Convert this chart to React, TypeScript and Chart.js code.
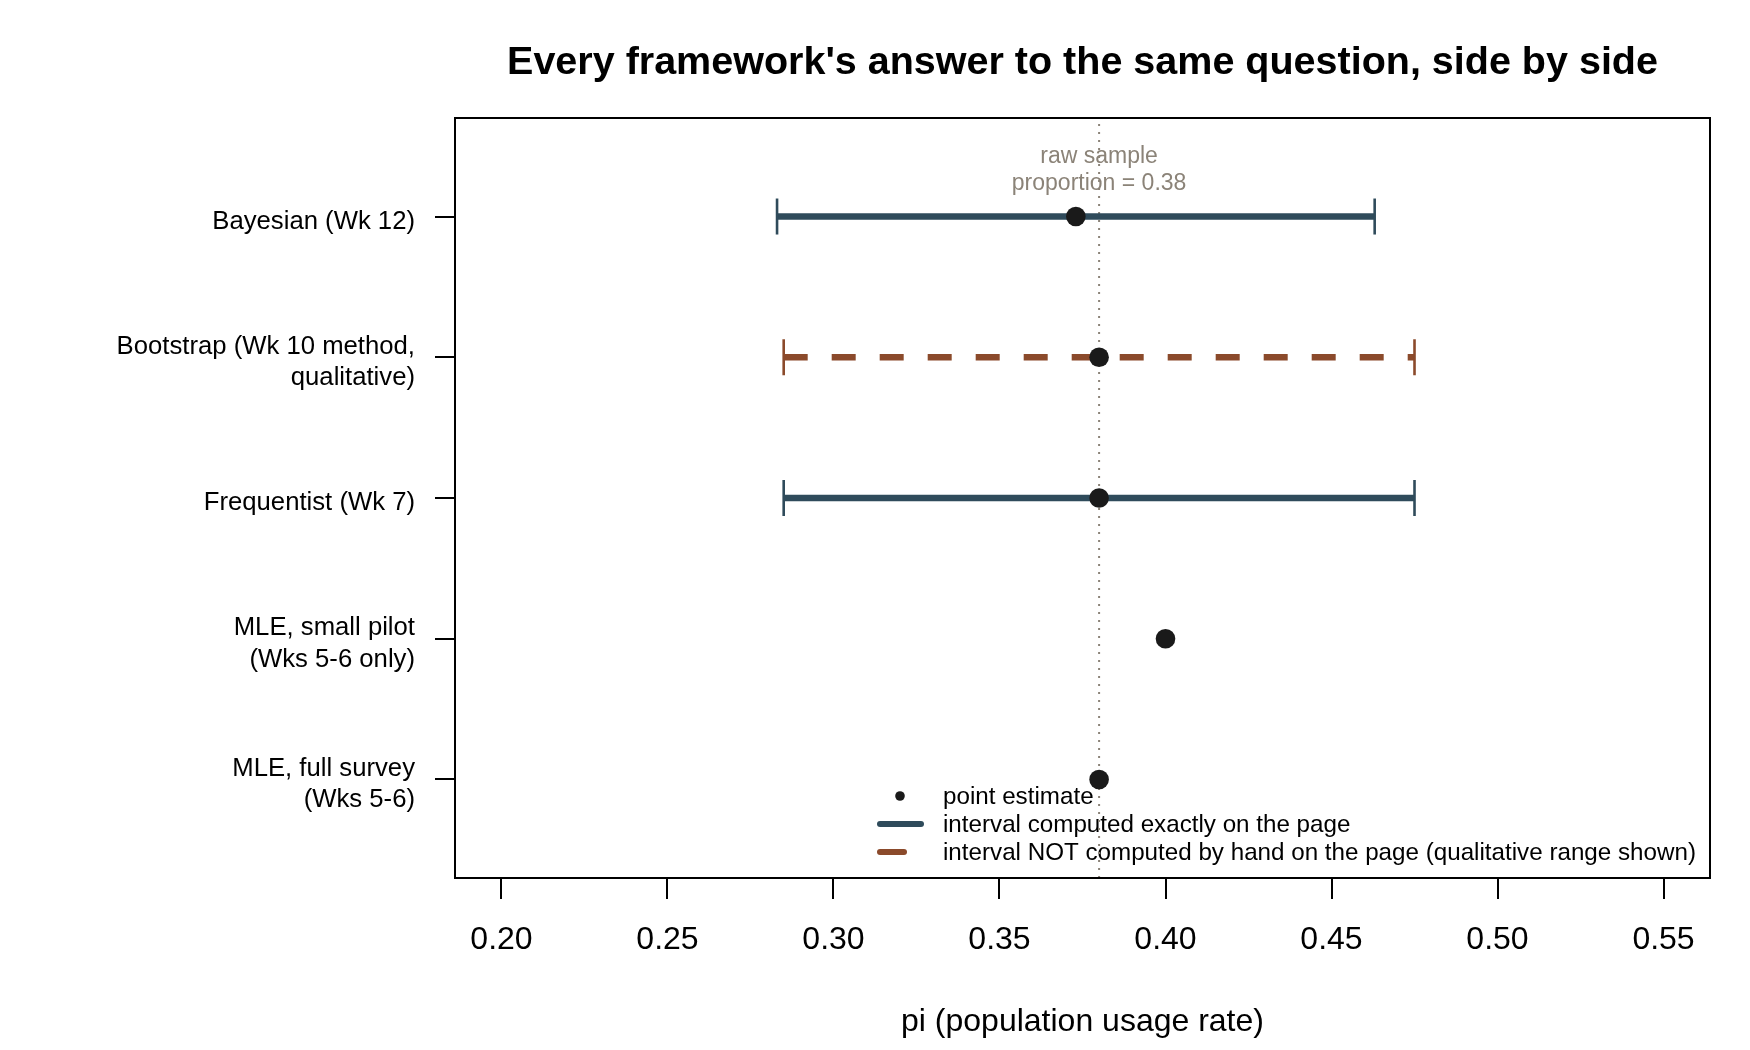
import { useEffect, useRef } from "react";
import { Chart, registerables } from "chart.js";

Chart.register(...registerables);

// rows, top to bottom
const methods = [
  "Bayesian (Wk 12)",
  "Bootstrap (Wk 10 method,\nqualitative)",
  "Frequentist (Wk 7)",
  "MLE, small pilot\n(Wks 5-6 only)",
  "MLE, full survey\n(Wks 5-6)",
];
const estimates = [0.373, 0.38, 0.38, 0.4, 0.38];
const lower = [0.283, 0.285, 0.285, null, null];
const upper = [0.463, 0.475, 0.475, null, null];
const computedExactly = [true, false, true, false, false];
const xTicks = [0.2, 0.25, 0.3, 0.35, 0.4, 0.45, 0.5, 0.55];
const rawProportion = 0.38;
const legendItems = [
  "point estimate",
  "interval computed exactly on the page",
  "interval NOT computed by hand on the page (qualitative range shown)",
];

const FONT = "'Liberation Sans', Arial, Helvetica, sans-serif";
const BLUE = "#2f4b5b";
const BROWN = "#8b4a2b";
const DOT = "#1a1a1a";
const GREY = "#8b8378";

const rowY = (i: number) => methods.length - i;

const decor = {
  id: "decor",
  beforeDatasetsDraw(chart: any) {
    const { ctx, chartArea, scales } = chart;
    ctx.save();
    // reference label
    const x = scales.x.getPixelForValue(rawProportion);
    const y = scales.y.getPixelForValue(5.33);
    ctx.fillStyle = GREY;
    ctx.font = `23px ${FONT}`;
    ctx.textAlign = "center";
    ctx.textBaseline = "middle";
    ctx.fillText("raw sample", x, y - 13.5);
    ctx.fillText(`proportion = ${rawProportion.toFixed(2)}`, x, y + 13.5);

    // legend, bottom right, no box
    ctx.font = `24.2px ${FONT}`;
    ctx.textAlign = "left";
    const tx = chartArea.left + 488;
    legendItems.forEach((t, i) => {
      const ly = chartArea.bottom - 82 + i * 28;
      if (i === 0) {
        ctx.fillStyle = DOT;
        ctx.beginPath();
        ctx.arc(tx - 43, ly, 4.8, 0, Math.PI * 2);
        ctx.fill();
      } else {
        ctx.strokeStyle = i === 1 ? BLUE : BROWN;
        ctx.lineWidth = 6;
        ctx.lineCap = "round";
        ctx.setLineDash(i === 1 ? [] : [24, 24]);
        ctx.beginPath();
        ctx.moveTo(tx - 63, ly);
        ctx.lineTo(tx - 22, ly);
        ctx.stroke();
        ctx.setLineDash([]);
      }
      ctx.fillStyle = "#000";
      ctx.fillText(t, tx, ly + 1);
    });
    ctx.restore();
  },
  afterDatasetsDraw(chart: any) {
    const { ctx, chartArea } = chart;
    ctx.save();
    ctx.strokeStyle = "#000";
    ctx.lineWidth = 2;
    ctx.strokeRect(
      chartArea.left,
      chartArea.top,
      chartArea.right - chartArea.left,
      chartArea.bottom - chartArea.top
    );
    ctx.restore();
  },
};

const App = () => {
  const canvasRef = useRef<HTMLCanvasElement>(null);
  const chartRef = useRef<Chart | null>(null);

  useEffect(() => {
    document.body.style.margin = "0";
    if (!canvasRef.current) return;
    if (chartRef.current) chartRef.current.destroy();

    const intervals: any[] = [];
    methods.forEach((m, i) => {
      if (lower[i] == null || upper[i] == null) return;
      const color = computedExactly[i] ? BLUE : BROWN;
      intervals.push({
        label: m,
        data: [
          { x: lower[i], y: rowY(i) },
          { x: upper[i], y: rowY(i) },
        ],
        showLine: true,
        borderColor: color,
        borderWidth: 6.5,
        borderCapStyle: "butt",
        borderDash: computedExactly[i] ? [] : [24, 24],
        pointStyle: "line",
        pointRotation: 90,
        pointRadius: 18,
        pointBorderWidth: 2.6,
        pointBorderColor: color,
        pointBackgroundColor: color,
      });
    });

    const ctx = canvasRef.current.getContext("2d");
    if (!ctx) return;
    chartRef.current = new Chart(ctx, {
      type: "scatter",
      data: {
        datasets: [
          {
            label: "point estimate",
            data: estimates.map((v, i) => ({ x: v, y: rowY(i) })),
            pointRadius: 9.8,
            pointBackgroundColor: DOT,
            pointBorderColor: DOT,
            pointBorderWidth: 0,
          },
          ...intervals,
          {
            label: "raw sample proportion",
            data: [
              { x: rawProportion, y: 0.3 },
              { x: rawProportion, y: 5.7 },
            ],
            showLine: true,
            borderColor: GREY,
            borderWidth: 2,
            borderDash: [2, 6],
            pointRadius: 0,
          },
        ],
      },
      options: {
        animation: false,
        responsive: true,
        maintainAspectRatio: false,
        events: [],
        layout: { padding: { left: 0, right: 40, top: 0, bottom: 0 } },
        plugins: {
          legend: { display: false },
          tooltip: { enabled: false },
          title: {
            display: true,
            fullSize: false,
            text: "Every framework's answer to the same question, side by side",
            color: "#000",
            font: { family: FONT, size: 39.5, weight: "bold" },
            padding: { top: 39.5, bottom: 31.1 },
          },
        },
        scales: {
          x: {
            type: "linear",
            position: "bottom",
            min: 0.186,
            max: 0.564,
            afterBuildTicks: (scale: any) => {
              scale.ticks = xTicks.map((v) => ({ value: v }));
            },
            afterFit: (scale: any) => {
              scale.height = 172;
            },
            ticks: {
              color: "#000",
              font: { family: FONT, size: 32 },
              padding: 22,
              maxRotation: 0,
              autoSkip: false,
              callback: (v: any) => Number(v).toFixed(2),
            },
            grid: {
              drawOnChartArea: false,
              drawTicks: true,
              tickLength: 21,
              color: "#000",
              lineWidth: 2,
            },
            border: { display: true, color: "#000", width: 2 },
            title: {
              display: true,
              text: "pi (population usage rate)",
              color: "#000",
              font: { family: FONT, size: 32 },
              padding: { top: 0, bottom: 9 },
            },
          },
          y: {
            type: "linear",
            position: "left",
            min: 0.3,
            max: 5.7,
            afterBuildTicks: (scale: any) => {
              scale.ticks = methods.map((_, i) => ({ value: rowY(i) }));
            },
            afterFit: (scale: any) => {
              scale.width = 455;
            },
            ticks: {
              color: "#000",
              font: { family: FONT, size: 25.7, lineHeight: 1.22 },
              padding: 20,
              labelOffset: 5,
              autoSkip: false,
              callback: (v: any) => {
                const m = methods[methods.length - Number(v)];
                return m ? m.split("\n") : "";
              },
            },
            grid: {
              drawOnChartArea: false,
              drawTicks: true,
              tickLength: 20,
              color: "#000",
              lineWidth: 2,
            },
            border: { display: true, color: "#000", width: 2 },
          },
        },
      } as any,
      plugins: [decor],
    });

    return () => {
      if (chartRef.current) {
        chartRef.current.destroy();
        chartRef.current = null;
      }
    };
  }, []);

  return (
    <div style={{ width: "1750px", height: "1050px", position: "relative", background: "#fff" }}>
      <canvas ref={canvasRef} />
    </div>
  );
};

export default App;
